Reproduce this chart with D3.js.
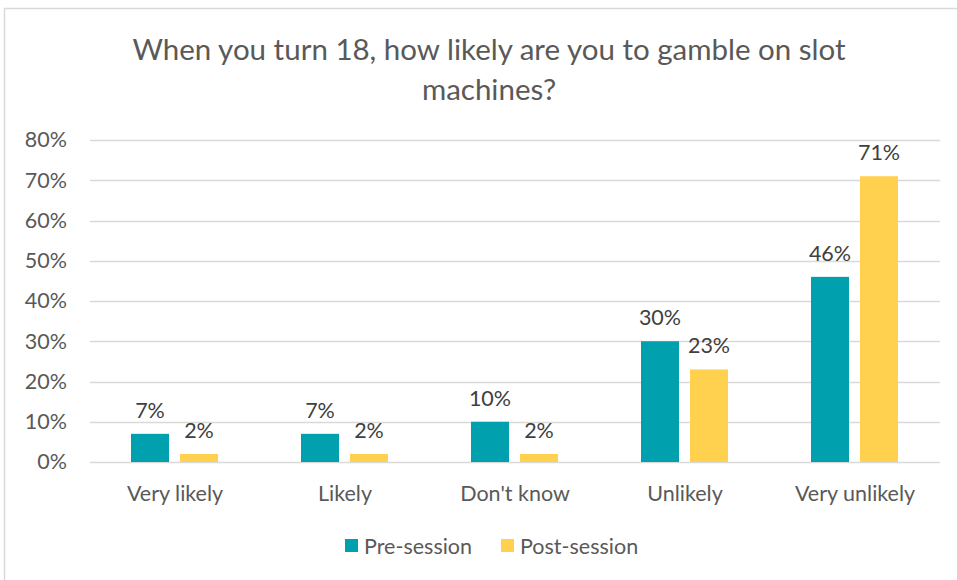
<!DOCTYPE html>
<html>
<head>
<meta charset="utf-8">
<script src="https://cdn.jsdelivr.net/npm/d3@7"></script>
<style>
  html, body { margin: 0; padding: 0; background: #fff; }
  svg { display: block; font-family: Lato, "Open Sans", sans-serif; }
</style>
</head>
<body>
<svg id="chart" width="957" height="580"></svg>
<script>
const categories = ["Very likely", "Likely", "Don't know", "Unlikely", "Very unlikely"];
const seriesNames = ["Pre-session", "Post-session"];
const preSession = [7, 7, 10, 30, 46];
const postSession = [2, 2, 2, 23, 71];
const yTicks = [0, 10, 20, 30, 40, 50, 60, 70, 80];
const colors = ["#00A0AF", "#FFD14F"];
const titleLines = ["When you turn 18, how likely are you to gamble on slot", "machines?"];

const svg = d3.select("#chart");
const W = 957, H = 580;
const textColor = "#595959";

// chart frame
svg.append("rect").attr("x", 4.5).attr("y", 8.5).attr("width", W + 10).attr("height", H + 10)
  .attr("fill", "#fff").attr("stroke", "#D9D9D9").attr("stroke-width", 1.5);

// title
svg.append("g").selectAll("text").data(titleLines).join("text")
  .attr("x", 489).attr("y", (d, i) => 60 + i * 40)
  .attr("text-anchor", "middle").attr("fill", textColor)
  .attr("font-size", 29.5).text(d => d);

const plot = { left: 90, right: 940, top: 140, bottom: 462 };
const y = d3.scaleLinear().domain([0, 80]).range([plot.bottom, plot.top]);
const x0 = d3.scaleBand().domain(categories).range([plot.left, plot.right]);
const x1 = d3.scaleBand().domain(seriesNames).range([41, x0.bandwidth() - 42]).paddingInner(0.2245);

// gridlines
svg.append("g").selectAll("line").data(yTicks).join("line")
  .attr("x1", plot.left).attr("x2", plot.right)
  .attr("y1", d => Math.round(y(d)) + 0.5).attr("y2", d => Math.round(y(d)) + 0.5)
  .attr("stroke", "#D9D9D9").attr("stroke-width", 1.3);

// y axis labels
const yAxis = d3.axisLeft(y).tickValues(yTicks).tickFormat(d => d + "%").tickSize(0).tickPadding(0);
const gy = svg.append("g").attr("transform", `translate(${plot.left - 23},0)`).call(yAxis);
gy.select(".domain").remove();
gy.selectAll("text").attr("font-size", 21.5).attr("fill", textColor).attr("font-family", "Lato, sans-serif");

// bars
const data = categories.map((c, i) => ({ cat: c, vals: [preSession[i], postSession[i]] }));
const groups = svg.append("g").selectAll("g").data(data).join("g")
  .attr("transform", d => `translate(${x0(d.cat)},0)`);

groups.selectAll("rect").data(d => d.vals.map((v, j) => ({ name: seriesNames[j], v, j })))
  .join("rect")
  .attr("x", d => x1(d.name)).attr("width", x1.bandwidth())
  .attr("y", d => y(d.v)).attr("height", d => y(0) - y(d.v))
  .attr("fill", d => colors[d.j]);

groups.selectAll("text").data(d => d.vals.map((v, j) => ({ name: seriesNames[j], v, j })))
  .join("text")
  .attr("x", d => x1(d.name) + x1.bandwidth() / 2)
  .attr("y", d => y(d.v) - 16)
  .attr("text-anchor", "middle").attr("font-size", 21.5).attr("fill", "#404040")
  .text(d => d.v + "%");

// x axis labels
const xAxis = d3.axisBottom(x0).tickSize(0).tickPadding(0);
const gx = svg.append("g").attr("transform", `translate(0,${plot.bottom + 39})`).call(xAxis);
gx.select(".domain").remove();
gx.selectAll("text").attr("font-size", 21.5).attr("fill", textColor).attr("font-family", "Lato, sans-serif").attr("dy", 0);

// legend
const legend = svg.append("g").attr("transform", "translate(345,546)");
const legendX = [0, 156];
seriesNames.forEach((n, i) => {
  const g = legend.append("g").attr("transform", `translate(${legendX[i]},0)`);
  g.append("rect").attr("x", 0).attr("y", -7).attr("width", 13).attr("height", 13).attr("fill", colors[i]);
  g.append("text").attr("x", 19).attr("y", 8).attr("font-size", 21.5).attr("fill", textColor).text(n);
});
</script>
</body>
</html>
